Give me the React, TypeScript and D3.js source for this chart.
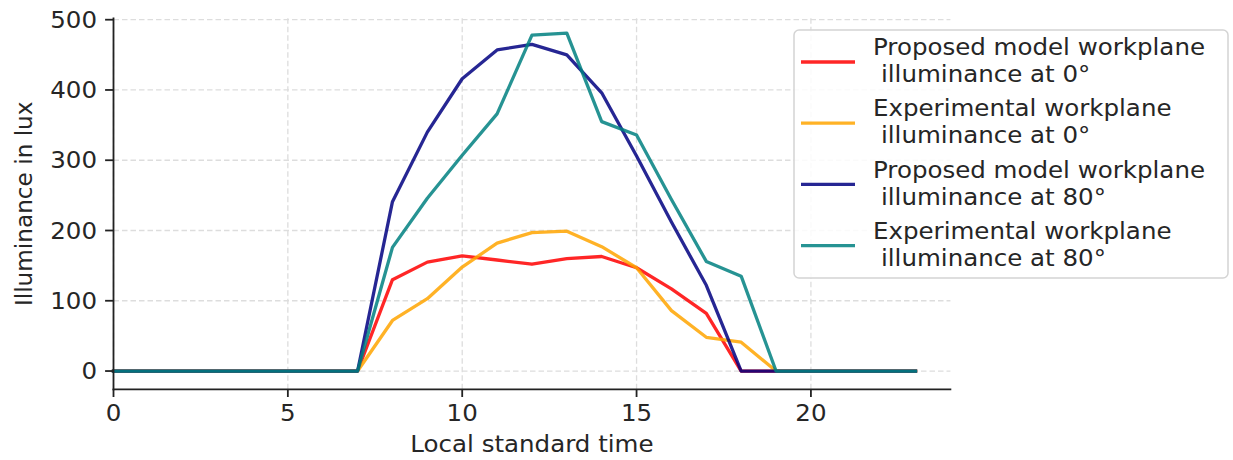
import React from 'react';
import * as d3 from 'd3';

const hours = [0, 1, 2, 3, 4, 5, 6, 7, 8, 9, 10, 11, 12, 13, 14, 15, 16, 17, 18, 19, 20, 21, 22, 23];
const proposed0 = [0, 0, 0, 0, 0, 0, 0, 0, 130, 155, 164, 158, 152, 160, 163, 147, 117, 82, 0, 0, 0, 0, 0, 0];
const experimental0 = [0, 0, 0, 0, 0, 0, 0, 0, 72, 103, 148, 182, 197, 199, 177, 147, 86, 48, 41, 0, 0, 0, 0, 0];
const proposed80 = [0, 0, 0, 0, 0, 0, 0, 0, 241, 340, 416, 457, 465, 450, 396, 306, 212, 122, 0, 0, 0, 0, 0, 0];
const experimental80 = [0, 0, 0, 0, 0, 0, 0, 0, 176, 246, 307, 366, 478, 481, 355, 336, 244, 156, 135, 0, 0, 0, 0, 0];

const seriesNames = [
  ['Proposed model workplane', 'illuminance at 0°'],
  ['Experimental workplane', 'illuminance at 0°'],
  ['Proposed model workplane', 'illuminance at 80°'],
  ['Experimental workplane', 'illuminance at 80°'],
];
const seriesColors = ['#ff0000', '#ffa500', '#000080', '#008080'];
const xTicks = [0, 5, 10, 15, 20];
const yTicks = [0, 100, 200, 300, 400, 500];
const xLabel = 'Local standard time';
const yLabel = 'Illuminance in lux';

const FONT = '"DejaVu Sans", Verdana, sans-serif';
const FS = 22.5;
const SX = 1.09;

export default function App() {
  const W = 1233;
  const H = 460;
  const x = d3.scaleLinear().domain([0, 24]).range([113.5, 950.4]);
  const y = d3.scaleLinear().domain([-26, 502]).range([389.3, 18.3]);
  const left = x(0);
  const right = x(24);
  const bottom = y(-26);
  const top = y(502);

  const allSeries = [proposed0, experimental0, proposed80, experimental80];
  const line = d3
    .line<number>()
    .x((_, i) => x(hours[i]))
    .y((d) => y(d));

  const txt = (
    key: string,
    tx: number,
    ty: number,
    s: string,
    anchor: 'start' | 'middle' | 'end' = 'start',
    extra = ''
  ) => (
    <text
      key={key}
      transform={`translate(${tx},${ty}) ${extra} scale(${SX},1)`}
      textAnchor={anchor}
      fontFamily={FONT}
      fontSize={FS}
      fill="#262626"
    >
      {s}
    </text>
  );

  const legX = 794;
  const legY = 30;
  const legW = 434;
  const legH = 248;
  const entryGap = 61.2;

  return (
    <svg
      width={W}
      height={H}
      style={{ position: 'absolute', left: 0, top: 0, background: '#fff' }}
    >
      <rect x={0} y={0} width={W} height={H} fill="#fff" />
      {/* grid */}
      <g stroke="#dddddd" strokeWidth={1.3} strokeDasharray="5.5,3">
        {xTicks.map((t) => (
          <line key={'gx' + t} x1={x(t)} x2={x(t)} y1={top} y2={bottom} />
        ))}
        {yTicks.map((t) => (
          <line key={'gy' + t} x1={left} x2={right} y1={y(t)} y2={y(t)} />
        ))}
      </g>
      {/* series */}
      {allSeries.map((s, i) => (
        <path
          key={'s' + i}
          d={line(s) || ''}
          fill="none"
          stroke={seriesColors[i]}
          strokeOpacity={0.85}
          strokeWidth={3.3}
          strokeLinejoin="round"
          strokeLinecap="square"
        />
      ))}
      {/* spines */}
      <line x1={left} x2={left} y1={top} y2={bottom} stroke="#222" strokeWidth={1.8} strokeLinecap="square" />
      <line x1={left} x2={right} y1={bottom} y2={bottom} stroke="#222" strokeWidth={1.8} strokeLinecap="square" />
      {/* ticks */}
      {xTicks.map((t) => (
        <g key={'xt' + t}>
          <line x1={x(t)} x2={x(t)} y1={bottom} y2={bottom + 7.7} stroke="#222" strokeWidth={1.8} />
          {txt('xtl' + t, x(t), bottom + 7.7 + 24.3, String(t), 'middle')}
        </g>
      ))}
      {yTicks.map((t) => (
        <g key={'yt' + t}>
          <line x1={left - 8.4} x2={left} y1={y(t)} y2={y(t)} stroke="#222" strokeWidth={1.8} />
          {txt('ytl' + t, left - 16.5, y(t) + 8.2, String(t), 'end')}
        </g>
      ))}
      {/* axis labels */}
      {txt('xl', (left + right) / 2, 452, xLabel, 'middle')}
      <text
        transform={`translate(31.5,${(top + bottom) / 2}) rotate(-90) scale(1.03,1)`}
        textAnchor="middle"
        fontFamily={FONT}
        fontSize={FS}
        fill="#262626"
      >
        {yLabel}
      </text>
      {/* legend */}
      <rect
        x={legX}
        y={legY}
        width={legW}
        height={legH}
        rx={5}
        ry={5}
        fill="#fff"
        fillOpacity={0.85}
        stroke="#d4d4d4"
        strokeWidth={1.5}
      />
      {seriesNames.map((nm, i) => {
        const cy = 62 + i * entryGap;
        return (
          <g key={'lg' + i}>
            <line
              x1={801}
              x2={855}
              y1={cy}
              y2={cy}
              stroke={seriesColors[i]}
              strokeOpacity={0.85}
              strokeWidth={3.3}
            />
            {txt('l1' + i, 873, cy - 6.8, nm[0])}
            {txt('l2' + i, 881, cy + 20.2, nm[1])}
          </g>
        );
      })}
    </svg>
  );
}
